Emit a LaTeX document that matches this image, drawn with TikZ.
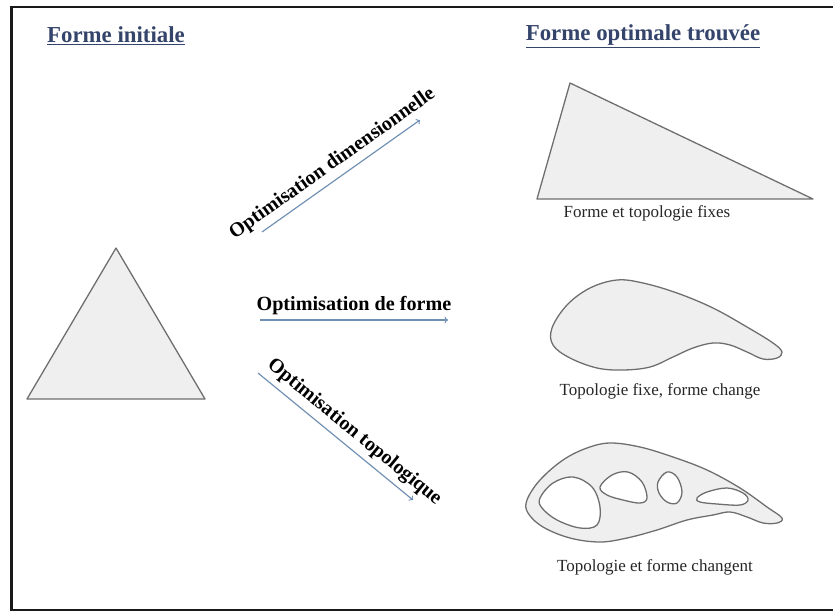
\documentclass[tikz,border=0pt]{standalone}
\usepackage{fontspec}
\setmainfont{Liberation Serif}
\usetikzlibrary{arrows}
\definecolor{titleblue}{HTML}{34446A}
\definecolor{arrowblue}{HTML}{6F8FB3}
\definecolor{partfill}{HTML}{EFEFEF}
\definecolor{partline}{HTML}{6E6E6E}

\begin{document}
\begin{tikzpicture}[x=0.03cm, y=-0.03cm,
    title/.style={font=\fontsize{19.5}{22}\selectfont\bfseries, text=titleblue},
    caption/.style={font=\fontsize{14.5}{17}\selectfont, text=black!85},
    optlabel/.style={font=\fontsize{17.2}{20}\selectfont\bfseries, text=black, sloped, above=1pt},
    optarrow/.style={arrowblue, line width=1pt, ->},
    partshape/.style={fill=partfill, draw=partline, line width=1.1pt, line join=round}]
            \useasboundingbox (0,0) rectangle (833,612);
            \draw[line width=2.1pt, black!90] (11.5,7) rectangle (850,610);% Draw frame

            \node[title] (initTitle) at (116,36) {\underline{Forme initiale}};
            \node[title] (optTitle)  at (643,36) {\underline{Forme optimale trouvée}};

            % initial triangle
            \draw[partshape] (116,248) -- (205,399) -- (27,399) -- cycle;

            % dimensional optimum
            \draw[partshape] (570,83) -- (813,199) -- (537,199) -- cycle;
            \node[caption] (capFixe) at (647,213) {Forme et topologie fixes};

            % shape optimum
            \draw[partshape] plot[smooth cycle, tension=0.6] coordinates {
                (552,328) (567,305) (590,288) (617,280) (643,283) (677,293) (713,308)
                (747,327) (773,343) (782,352) (777,358) (763,359) (747,352) (730,345)
                (713,343) (693,348) (673,357) (650,367) (623,370) (597,368) (570,358) (553,345)};
            \node[caption] (capForme) at (660,391) {Topologie fixe, forme change};

            % topology optimum
            \draw[partshape, even odd rule] plot[smooth cycle, tension=0.6] coordinates {
                (527,500) (540,480) (563,460) (587,448) (610,443) (640,447) (673,457)
                (707,470) (740,488) (767,507) (782,518) (777,523) (763,523) (747,517)
                (730,512) (713,515) (687,520) (657,530) (627,538) (600,542) (570,538)
                (543,527) (528,513)}
                plot[smooth cycle, tension=0.6] coordinates {
                (540,498) (553,483) (573,477) (592,487) (600,507) (597,525) (580,528) (557,520) (542,508)}
                plot[smooth cycle, tension=0.6] coordinates {
                (600,487) (612,475) (628,472) (642,482) (647,498) (640,503) (623,500) (607,495)}
                plot[smooth cycle, tension=0.6] coordinates {
                (658,482) (667,472) (677,477) (682,492) (677,503) (667,502) (659,493)}
                plot[smooth cycle, tension=0.6] coordinates {
                (697,498) (707,492) (727,488) (743,493) (748,500) (740,505) (717,504) (700,502)};
            \node[caption] (capTopo) at (655,567) {Topologie et forme changent};

            % arrows
            \coordinate (dimStart)   at (262,232);
            \coordinate (dimEnd)     at (420,120);
            \coordinate (formeStart) at (260,320);
            \coordinate (formeEnd)   at (448,320);
            \coordinate (topoStart)  at (258,373);
            \coordinate (topoEnd)    at (413,500);

            \draw[optarrow] (dimStart) -- (dimEnd) node[optlabel, midway] {Optimisation dimensionnelle};
            \draw[optarrow] (formeStart) -- (formeEnd) node[optlabel, midway] {Optimisation de forme};
            \draw[optarrow] (topoStart) -- (topoEnd) node[optlabel, pos=0.56] {Optimisation topologique};
        \end{tikzpicture}
\end{document}
